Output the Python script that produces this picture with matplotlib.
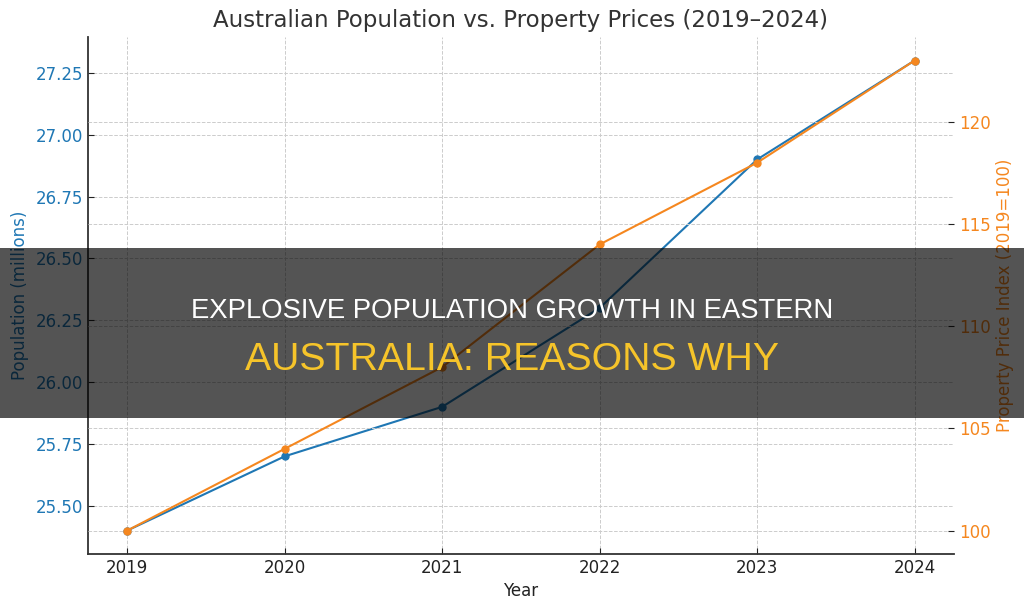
import matplotlib
matplotlib.use("Agg")
import matplotlib.pyplot as plt
from matplotlib.patches import Rectangle

years = [2019, 2020, 2021, 2022, 2023, 2024]
population = [25.4, 25.7, 25.9, 26.3, 26.9, 27.3]
price_index = [100, 104, 108, 114, 118, 123]

title = "Australian Population vs. Property Prices (2019–2024)"
banner_line1 = "EXPLOSIVE POPULATION GROWTH IN EASTERN"
banner_line2 = "AUSTRALIA: REASONS WHY"

BLUE = "#1f77b4"
ORANGE = "#f5871f"

plt.rcParams['font.family'] = ['DejaVu Sans']

fig = plt.figure(figsize=(10.24, 6.10), dpi=100)
ax = fig.add_axes([0.0859, 0.0918, 0.8457, 0.8475])
ax2 = ax.twinx()

ax.plot(years, population, color=BLUE, marker='o', markersize=5, linewidth=1.5)
ax2.plot(years, price_index, color=ORANGE, marker='o', markersize=5, linewidth=1.5)

ax.set_title(title, fontsize=16.5, color='#333333', pad=7)
ax.set_xlabel("Year", fontsize=12, color='#222222', labelpad=4)
ax.set_ylabel("Population (millions)", fontsize=12, color=BLUE, labelpad=5)
ax2.set_ylabel("Property Price Index (2019=100)", fontsize=12, color=ORANGE, labelpad=4)

yt = [25.5, 25.75, 26.0, 26.25, 26.5, 26.75, 27.0, 27.25]
ax.set_xticks(years)
ax.set_yticks(yt)
ax.set_yticklabels([f"{v:.2f}" for v in yt])
ax2.set_yticks([100, 105, 110, 115, 120])

ax.tick_params(axis='x', direction='in', labelsize=12, colors='#222222', length=4)
ax.tick_params(axis='y', direction='in', labelsize=12, length=4, color='#222222', labelcolor=BLUE)
ax2.tick_params(axis='y', direction='in', labelsize=12, length=4, color='#222222', labelcolor=ORANGE)

for a in (ax, ax2):
    a.spines['top'].set_visible(False)
    a.spines['right'].set_visible(False)
ax2.spines['left'].set_visible(False)
ax2.spines['bottom'].set_visible(False)
for s in ('left', 'bottom'):
    ax.spines[s].set_color('#333333')
    ax.spines[s].set_linewidth(1.3)

ax.grid(True, linestyle='--', color='#cccccc', linewidth=0.7)
ax2.grid(True, axis='y', linestyle='--', color='#cccccc', linewidth=0.7)
ax.set_axisbelow(True)

# overlay banner
y0 = (610 - 418) / 610
y1 = (610 - 248) / 610
fig.patches.append(Rectangle((0, y0), 1, y1 - y0, transform=fig.transFigure,
                             facecolor='black', alpha=0.67, edgecolor='none', zorder=5))
fig.text(0.5, 1 - 310.5 / 610, banner_line1, ha='center', va='center', color='white',
         fontsize=19.8, family=['Liberation Sans', 'DejaVu Sans'], zorder=6)
fig.text(0.5, 1 - 359.5 / 610, banner_line2, ha='center', va='center', color='#f6c42a',
         fontsize=28.3, family=['Liberation Sans', 'DejaVu Sans'], zorder=6)

fig.savefig("out.png", dpi=100)
